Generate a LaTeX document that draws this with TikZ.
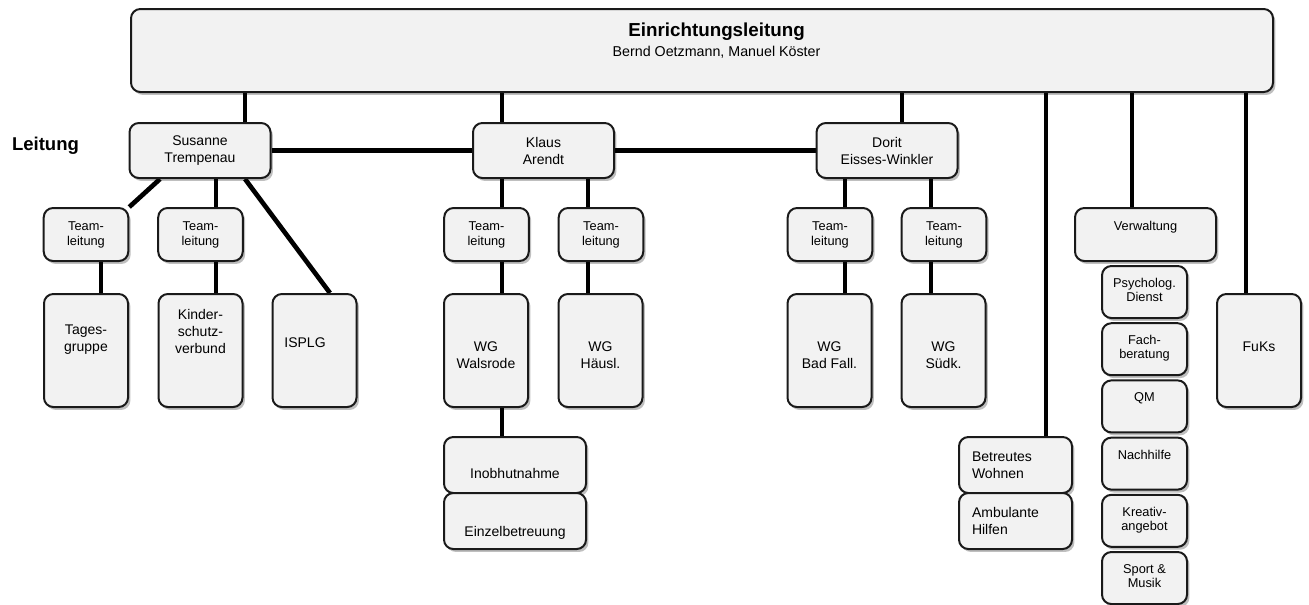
\documentclass[tikz,border=0pt]{standalone}
\usepackage{fontspec}
\setmainfont{Liberation Sans}
\usetikzlibrary{shadows,backgrounds}
\definecolor{boxfill}{HTML}{F2F2F2}
\definecolor{boxline}{HTML}{1A1A1A}

\begin{document}
\begin{tikzpicture}[x=0.75pt, y=-0.75pt,
		box/.style={draw=boxline, line width=1.5pt, fill=boxfill, rounded corners=7pt,
			drop shadow={shadow xshift=1.8pt, shadow yshift=-2.2pt, fill=black, opacity=0.25},
			inner sep=0pt, align=center, font=\fontsize{10.5}{12.75}\selectfont},
		leadbox/.style={box, minimum width=105.75pt, minimum height=41.25pt},
		teambox/.style={box, minimum width=63.4pt, minimum height=39.75pt, font=\fontsize{9.6}{11.25}\selectfont},
		tallbox/.style={box, minimum width=63pt, minimum height=84.75pt},
		widebox/.style={box, minimum width=106.5pt, minimum height=42pt},
		sidebox/.style={box, minimum width=84.75pt, minimum height=42pt, inner xsep=9.75pt, text width=65.25pt, align=left},
		smallbox/.style={box, minimum width=63.75pt, minimum height=39pt},
		boxtext/.style={inner sep=0pt, align=center, font=\fontsize{10.5}{12.75}\selectfont},
		smalltext/.style={boxtext, font=\fontsize{9.6}{10.5}\selectfont},
		link/.style={line width=3.5pt, black}]
	\useasboundingbox (0,0) rectangle (1309,604);
	
	\node[box, minimum width=856.5pt, minimum height=62.25pt,
		label={[boxtext, anchor=north, xshift=10.9pt, yshift=-11.25pt, font=\fontsize{14.1}{17}\bfseries]above:Einrichtungsleitung},
		label={[boxtext, anchor=north, xshift=10.9pt, yshift=-28.3pt, font=\fontsize{10.7}{13}\selectfont]above:{Bernd Oetzmann, Manuel Köster}}] (top) at (702,50.5) {};
	
	\node[font=\fontsize{13.9}{16}\bfseries] (leitung) at (45.5,146) {Leitung};
	
	\node[leadbox] (susanne) at (200,150.5) {Susanne\\Trempenau};
	\node[leadbox] (klaus) at (543.5,150.5) {Klaus\\Arendt};
	\node[leadbox] (dorit) at (887,150.5) {Dorit\\Eisses-Winkler};
	
	\foreach \name/\x in {team1/86, team2/200.5, team3/486.5, team4/601, team5/830, team6/944}
		\node[teambox] (\name) at (\x,234.5) {Team-\\leitung};
	
	\node[tallbox, label={[boxtext, anchor=north, yshift=-24pt]above:{Tages-\\gruppe}}] (tages) at (86,350.5) {};
	\node[tallbox, label={[boxtext, anchor=north, yshift=-12pt]above:{Kinder-\\schutz-\\verbund}}] (kinder) at (200.5,350.5) {};
	\node[tallbox, label={[boxtext, anchor=north, xshift=-7.1pt, yshift=-33pt]above:ISPLG}] (isplg) at (314.5,350.5) {};
	\foreach \name/\x/\txt in {walsrode/486/Walsrode, haeusl/600.5/Häusl., badfall/829.5/Bad Fall., suedk/943.5/Südk.}
		\node[tallbox, label={[boxtext, anchor=north, yshift=-36pt]above:{WG\\\txt}}] (\name) at (\x,350.5) {};
	\node[tallbox, label={[boxtext, anchor=north, yshift=-36.5pt]above:FuKs}] (fuks) at (1259,350.5) {};
	
	\node[widebox, label={[boxtext, anchor=north, yshift=-24pt]above:Inobhutnahme}] (inobhut) at (515,465) {};
	\node[widebox, label={[boxtext, anchor=north, yshift=-25.3pt]above:Einzelbetreuung}] (einzel) at (515,521) {};
	
	\node[sidebox] (betreut) at (1015.5,465) {Betreutes\\Wohnen};
	\node[sidebox] (ambulant) at (1015.5,521) {Ambulante\\Hilfen};
	
	\node[box, minimum width=105.75pt, minimum height=39.75pt,
		label={[smalltext, anchor=north, yshift=-10.3pt]above:Verwaltung}] (verwaltung) at (1145.5,234.5) {};
	\foreach \name/\txt [count=\i from 0] in {psych/{Psycholog.\\Dienst}, fach/{Fach-\\beratung}, qm/QM, nachhilfe/Nachhilfe, kreativ/{Kreativ-\\angebot}, sport/{Sport \&\\Musik}}
		\node[smallbox, label={[smalltext, anchor=north, yshift=-9.75pt]above:{\txt}}] (\name) at (1144.5,292+57.2*\i) {};
	
	\begin{pgfonlayer}{background}
		% Verbindungslinien (Linien)
		\foreach \b/\s in {susanne/33.75pt, klaus/-31.1pt, dorit/11.25pt, betreut/22.9pt, verwaltung/-10.1pt, fuks/-9.75pt}
			\draw[link] ([xshift=\s]\b.north) -- ([xshift=\s]\b.north |- top.south);
		\draw[link] (susanne.east) -- (klaus.west);
		\draw[link] (klaus.east) -- (dorit.west);
		\draw[link] ([xshift=-30pt]susanne.south) -- (team1.north east);
		\draw[link] ([xshift=33.75pt]susanne.south) -- ([xshift=11.6pt]isplg.north);
		\foreach \a/\b/\s in {team2/susanne/11.6pt, team3/klaus/11.6pt, team4/klaus/-9.75pt, team5/dorit/11.25pt, team6/dorit/-9.75pt}
			\draw[link] ([xshift=\s]\a.north) -- ([xshift=\s]\a.north |- \b.south);
		\foreach \a/\b/\s in {team1/tages/11.25pt, team2/kinder/11.6pt, team3/walsrode/11.6pt, team4/haeusl/-9.75pt, team5/badfall/11.25pt, team6/suedk/-9.75pt, walsrode/inobhut/12pt}
			\draw[link] ([xshift=\s]\a.south) -- ([xshift=\s]\a.south |- \b.north);
	\end{pgfonlayer}
\end{tikzpicture}
\end{document}
